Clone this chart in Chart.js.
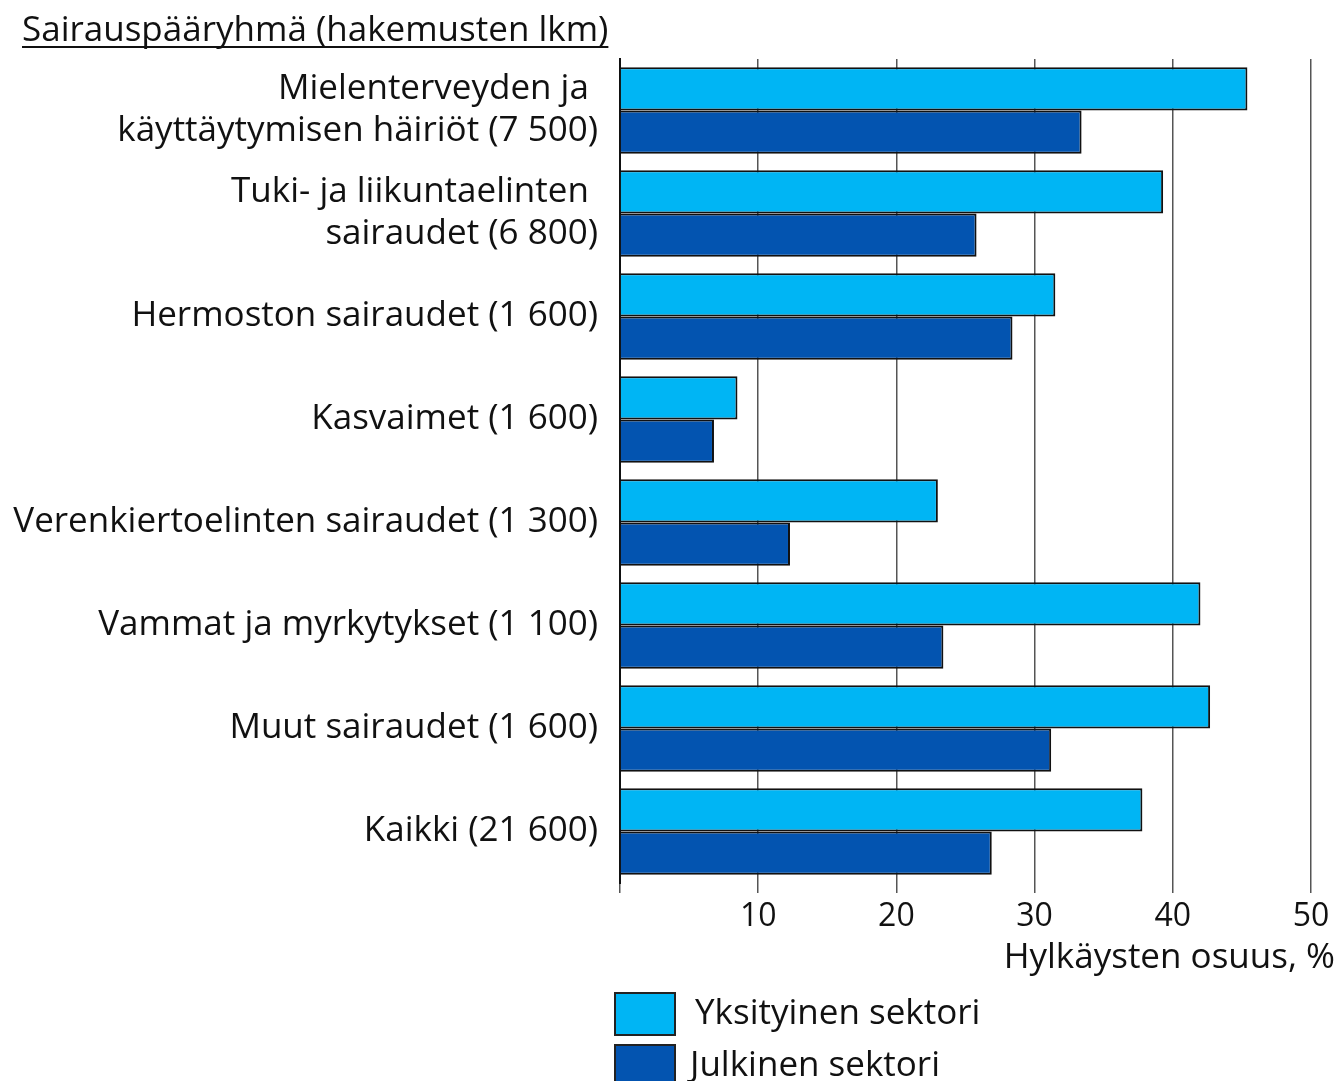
<!DOCTYPE html>
<html>
  <head>
    <title>Hylkäysten osuus sairauspääryhmittäin</title>
    <script src="https://cdn.jsdelivr.net/npm/chart.js"></script>
    <style>
      html, body { margin: 0; padding: 0; background: #fff; }
      #wrap { width: 1339px; height: 1081px; }
    </style>
  </head>
  <body>
    <div id="wrap"><canvas id="kaavio" width="1339" height="1081"></canvas></div>

    <script>
      // Data luettu kuvasta
      const ryhmat = [
        ['Mielenterveyden ja ', 'käyttäytymisen häiriöt (7 500)'],
        ['Tuki- ja liikuntaelinten ', 'sairaudet (6 800)'],
        'Hermoston sairaudet (1 600)',
        'Kasvaimet (1 600)',
        'Verenkiertoelinten sairaudet (1 300)',
        'Vammat ja myrkytykset (1 100)',
        'Muut sairaudet (1 600)',
        'Kaikki (21 600)'
      ];
      const yksityinen = [45.4, 39.3, 31.5, 8.5, 23.0, 42.0, 42.7, 37.8];
      const julkinen = [33.4, 25.8, 28.4, 6.8, 12.3, 23.4, 31.2, 26.9];
      const xTicks = [10, 20, 30, 40, 50];

      const FONT = "'Open Sans', sans-serif";
      const KOKO = 35;
      const VAALEA = '#00b5f4';
      const TUMMA = '#0354b0';

      // otsikko ja selite piirretään itse
      const omatTekstit = {
        id: 'omatTekstit',
        afterDraw(chart) {
          const ctx = chart.ctx;
          ctx.save();
          ctx.fillStyle = '#111';
          ctx.font = KOKO + 'px ' + FONT;
          ctx.textBaseline = 'alphabetic';
          ctx.textAlign = 'left';
          const otsikko = 'Sairauspääryhmä (hakemusten lkm)';
          ctx.fillText(otsikko, 22, 41);
          const w = ctx.measureText(otsikko).width;
          ctx.fillRect(22, 46, w, 2);

          // akselin nimi
          ctx.textAlign = 'right';
          ctx.textBaseline = 'middle';
          ctx.fillText('Hylkäysten osuus, %', 1335, 958);

          // selite
          ctx.textAlign = 'left';
          chart.data.datasets.forEach((ds, i) => {
            const y = 993 + i * 52;
            ctx.fillStyle = ds.backgroundColor;
            ctx.fillRect(615, y, 60, 42);
            ctx.strokeStyle = '#222';
            ctx.lineWidth = 2;
            ctx.strokeRect(615, y, 60, 42);
            ctx.fillStyle = '#111';
            ctx.fillText(ds.label, i === 0 ? 695 : 690, y + 21);
          });
          ctx.restore();
        }
      };

      new Chart(document.getElementById('kaavio'), {
        type: 'bar',
        data: {
          labels: ryhmat,
          datasets: [
            {
              label: 'Yksityinen sektori',
              data: yksityinen,
              backgroundColor: VAALEA,
              borderColor: '#111',
              borderWidth: 2,
              categoryPercentage: 0.84,
              barPercentage: 1.0
            },
            {
              label: 'Julkinen sektori',
              data: julkinen,
              backgroundColor: TUMMA,
              borderColor: '#111',
              borderWidth: 2,
              categoryPercentage: 0.84,
              barPercentage: 1.0
            }
          ]
        },
        options: {
          indexAxis: 'y',
          responsive: false,
          animation: false,
          layout: { padding: { top: 59, right: 28, left: 0, bottom: 0 } },
          plugins: {
            legend: { display: false },
            tooltip: { enabled: false }
          },
          scales: {
            x: {
              min: 0,
              max: 50,
              afterBuildTicks: (scale) => {
                scale.ticks = [0].concat(xTicks).map(v => ({ value: v }));
              },
              afterFit: (scale) => { scale.height = 198; },
              grid: {
                color: '#555',
                lineWidth: 1.5,
                tickLength: 10,
                tickColor: '#555'
              },
              border: { display: false },
              ticks: {
                color: '#111',
                font: { family: FONT, size: 32 },
                padding: 5,
                maxRotation: 0,
                callback: (v) => v === 0 ? '' : String(v)
              }
            },
            y: {
              afterFit: (scale) => { scale.width = 620; },
              grid: { display: false, drawTicks: false },
              border: { display: true, color: '#111', width: 2 },
              ticks: {
                color: '#111',
                font: { family: FONT, size: KOKO, lineHeight: 1.2 },
                padding: 22
              }
            }
          }
        },
        plugins: [omatTekstit]
      });
    </script>
  </body>
</html>
